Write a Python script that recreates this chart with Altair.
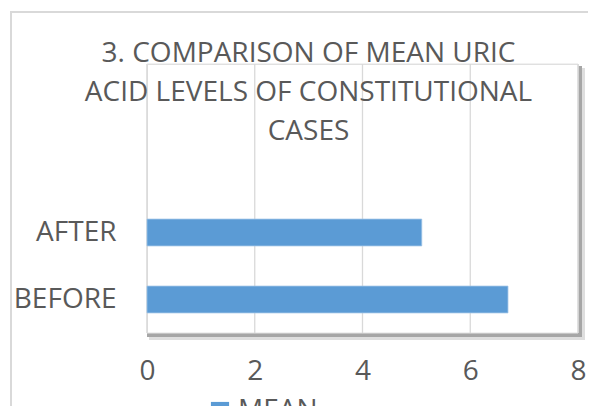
import altair as alt
import pandas as pd

categories = ["AFTER", "BEFORE"]
values = [5.1, 6.7]
series = ["MEAN", "MEAN"]
x_ticks = [0, 2, 4, 6, 8]
title_lines = ["3. COMPARISON OF MEAN URIC", "ACID LEVELS OF CONSTITUTIONAL", "CASES"]

df = pd.DataFrame({"category": categories, "value": values, "series": series})
ticks_df = pd.DataFrame({"t": x_ticks})
one = pd.DataFrame({"k": [0]})

FONT = "Open Sans"
TXT = "#595959"
W, H = 431, 269
xscale = alt.Scale(domain=[0, 8], nice=False)
xaxis = alt.Axis(values=x_ticks, grid=False, domain=False, ticks=False,
                 labelFontSize=28, labelColor=TXT, labelFlush=False,
                 labelOverlap=False, labelFont=FONT, labelPadding=24, title=None)

grid = alt.Chart(ticks_df).mark_rule(color="#d9d9d9", strokeWidth=1.3).encode(
    x=alt.X("t:Q", scale=xscale, axis=xaxis), y=alt.value(0), y2=alt.value(H))

bars = alt.Chart(df).mark_bar(stroke="#9dc3e6", strokeWidth=0.8).encode(
    x=alt.X("value:Q", scale=xscale, axis=xaxis),
    y=alt.Y("category:N", sort=categories,
            scale=alt.Scale(range=[135, 269], paddingInner=0.6, paddingOuter=0.3),
            axis=alt.Axis(domain=False, ticks=False, grid=False, labelFontSize=28,
                          labelColor=TXT, labelFont=FONT, labelPadding=31, title=None)),
    color=alt.Color("series:N", scale=alt.Scale(range=["#5b9bd5"]),
                    legend=alt.Legend(title=None, orient="none", legendX=59, legendY=333,
                                      symbolType="square", symbolSize=330, symbolStrokeWidth=0,
                                      labelFontSize=28, labelColor=TXT, labelFont=FONT,
                                      labelOffset=4, padding=0)),
)

frame = alt.Chart(one).mark_rect(fill=None, stroke="#e3e3e3", strokeWidth=1).encode(
    x=alt.value(0), x2=alt.value(W), y=alt.value(0), y2=alt.value(H))

shadow_r2 = alt.Chart(one).mark_rule(color="#dedede", strokeWidth=4).encode(
    x=alt.value(W + 5), y=alt.value(4), y2=alt.value(H + 7))
shadow_b2 = alt.Chart(one).mark_rule(color="#dedede", strokeWidth=4).encode(
    y=alt.value(H + 5), x=alt.value(2), x2=alt.value(W + 7))
shadow_r = alt.Chart(one).mark_rule(color="#a6a6a6", strokeWidth=4).encode(
    x=alt.value(W + 2), y=alt.value(2), y2=alt.value(H + 4))
shadow_b = alt.Chart(one).mark_rule(color="#a6a6a6", strokeWidth=4).encode(
    y=alt.value(H + 2), x=alt.value(0), x2=alt.value(W + 4))

outer = alt.Chart(one).mark_rect(fill=None, stroke="#d9d9d9", strokeWidth=2).encode(
    x=alt.value(-136), x2=alt.value(W + 60), y=alt.value(-52), y2=alt.value(H + 100))

chart = alt.layer(outer, shadow_r2, shadow_b2, shadow_r, shadow_b, frame, grid, bars).properties(
    width=W, height=H,
    title=alt.TitleParams(title_lines, fontSize=28, font=FONT, color=TXT, fontWeight="normal",
                          lineHeight=39, anchor="middle", offset=0, dx=-54, dy=135),
    autosize=alt.AutoSizeParams(type="none"),
    padding={"left": 139, "top": 56, "right": 10, "bottom": 80},
).configure_view(stroke=None).configure(background="white")

chart.save("out.html", embed_options={"renderer": "svg", "actions": False})
